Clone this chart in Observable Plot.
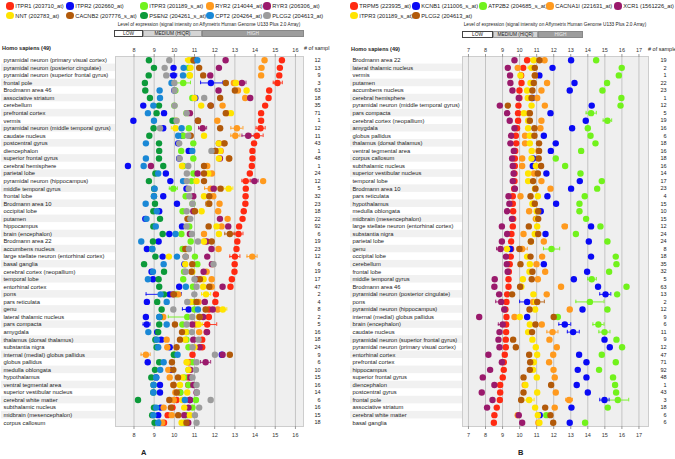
<!DOCTYPE html>
<html><head><meta charset="utf-8">
<script src="https://cdn.jsdelivr.net/npm/d3@7"></script>
<script src="https://cdn.jsdelivr.net/npm/@observablehq/plot@0.6"></script>
<style>
body{margin:0;width:675px;height:459px;position:relative;overflow:hidden;background:#fff;font-family:"Liberation Sans",Arial,sans-serif;color:#222}
.abs{position:absolute;white-space:nowrap;z-index:2}
.wrap{position:absolute;z-index:1}
</style></head><body>
<script>
// ---------------- Panel A data ----------------
const aRows = ["pyramidal neuron (primary visual cortex)","pyramidal neuron (posterior cingulate)","pyramidal neuron (superior frontal gyrus)","frontal pole","Brodmann area 46","associative striatum","cerebellum","prefrontal cortex","vermis","pyramidal neuron (middle temporal gyrus)","caudate nucleus","postcentral gyrus","diencephalon","superior frontal gyrus","cerebral hemisphere","parietal lobe","pyramidal neuron (hippocampus)","middle temporal gyrus","frontal lobe","Brodmann area 10","occipital lobe","putamen","hippocampus","brain (encephalon)","Brodmann area 22","accumbens nucleus","large stellate neuron (entorhinal cortex)","basal ganglia","cerebral cortex (neopallium)","temporal lobe","entorhinal cortex","pons","pars reticulata","genu","lateral thalamic nucleus","pars compacta","amygdala","thalamus (dorsal thalamus)","substantia nigra","internal (medial) globus pallidus","globus pallidus","medulla oblongata","hypothalamus","ventral tegmental area","superior vestibular nucleus","cerebral white matter","subthalamic nucleus","midbrain (mesencephalon)","corpus callosum"];
const aSamples = [12,13,9,3,63,18,35,71,1,12,11,43,1,48,1,24,12,5,32,23,18,22,92,6,19,23,12,6,19,17,47,2,4,8,2,5,16,18,24,9,6,10,15,16,14,6,16,15,18];
const aNames = ["ITPR1 (203710_at)","ITPR2 (202660_at)","ITPR3 (201189_s_at)","RYR2 (214044_at)","RYR3 (206306_at)","NNT (202783_at)","CACNB2 (207776_s_at)","PSEN2 (204261_s_at)","CPT2 (204264_at)","PLCG2 (204613_at)"];
const aColors = ["#ff2a12","#0a0af5","#72f21c","#ff9a1e","#9a1a6c","#ffe400","#b25a0a","#0c9a3a","#1a88d6","#9c9c9c"];
const aITPR1 = [15.33,15.23,15.2,15.11,14.7,14.67,14.5,14.3,14.3,14.27,14.09,13.95,13.87,13.87,13.84,13.74,13.54,13.54,13.53,13.52,13.44,13.38,13.21,13.18,13.12,13.08,13.0,12.99,12.98,12.85,12.78,12.06,12.03,11.72,11.71,11.63,11.6,11.38,11.38,10.9,10.74,10.74,10.69,10.69,10.28,10.11,9.91,9.67,9.49];
const aITPR2 = [10.99,9.96,9.96,11.81,10.0,11.04,8.46,9.49,7.97,9.45,10.4,10.19,10.71,10.24,7.7,9.58,9.8,10.6,9.45,10.13,9.25,8.56,10.38,9.75,9.22,8.64,9.42,10.5,8.87,8.94,10.24,9.77,8.64,10.71,8.59,8.63,9.15,9.35,9.77,12.35,8.68,9.83,9.1,9.29,9.29,10.77,9.32,9.2,9.25];
const aITPR3 = [10.9,10.7,10.75,10.44,10.05,10.89,10.0,10.6,10.0,10.72,10.44,10.94,10.34,10.94,10.44,10.95,10.85,9.95,10.56,10.9,10.41,10.7,10.74,10.35,10.81,10.41,11.02,11.14,10.48,10.44,10.92,10.1,10.99,11.0,10.64,10.4,10.6,10.6,10.7,9.98,10.9,10.7,10.5,10.7,10.3,11.07,10.9,10.6,10.5];
const aRYR2 = [14.47,14.32,14.3,12.95,13.15,13.51,12.39,12.6,12.13,13.1,13.02,12.45,12.3,12.7,11.63,11.86,14.4,11.8,11.93,12.24,12.17,12.64,12.34,11.47,11.5,12.19,13.86,11.9,11.6,11.85,11.85,10.2,11.2,12.15,9.45,11.05,11.23,9.62,9.65,8.59,10.66,9.7,9.77,9.95,10.05,9.97,9.47,9.87,9.4];
const aRYR3 = [12.54,12.21,11.78,13.35,12.19,13.76,11.8,10.77,11.17,11.4,13.66,12.21,12.04,12.26,8.84,11.15,13.97,11.95,10.94,11.68,10.94,12.26,12.67,10.77,11.6,11.84,11.63,11.86,11.45,11.1,12.39,9.93,11.51,11.9,11.43,10.89,11.62,10.94,11.25,12.39,11.55,10.8,10.8,10.94,11.1,10.77,10.7,10.49,10.69];
const aNNT = [10.72,10.8,10.77,13.05,13.58,11.0,11.33,12.8,10.1,10.06,11.47,12.2,12.26,12.21,10.38,11.68,11.1,12.69,11.47,11.7,11.35,10.7,12.09,12.21,11.47,10.6,9.73,10.54,10.89,11.45,11.43,11.57,10.82,12.4,11.23,11.2,10.57,10.54,11.0,10.0,10.61,10.7,10.41,10.28,10.64,10.4,10.49,10.77,10.36];
const aCACNB2 = [10.95,11.23,11.43,12.55,13.0,12.27,11.8,12.55,11.17,12.27,10.81,12.49,12.04,12.72,11.47,11.47,11.47,12.29,11.73,11.73,11.02,10.65,11.7,12.75,11.85,10.54,10.56,10.89,10.85,11.27,11.73,9.98,11.1,11.55,11.25,10.03,10.38,10.28,10.11,12.75,9.88,9.95,10.18,9.96,10.12,9.75,9.83,10.19,10.6];
const aPSEN2 = [8.74,8.99,8.73,8.54,8.56,8.79,9.24,9.12,9.91,8.97,8.76,9.24,9.25,9.24,9.45,9.06,8.74,9.0,8.99,9.04,8.96,9.29,8.96,9.42,8.94,8.9,9.06,8.5,9.49,9.22,9.25,9.49,9.15,9.37,9.27,9.25,9.2,9.06,9.12,9.98,9.25,9.04,8.86,8.97,8.96,8.2,8.99,8.9,9.02];
const aCPT2 = [11.14,10.46,10.43,9.86,9.27,9.29,8.96,8.69,8.99,10.36,10.19,8.59,10.89,8.59,8.48,9.2,10.43,9.02,8.99,8.58,9.13,8.62,9.08,10.06,8.36,8.91,10.13,9.47,8.94,8.69,10.57,9.32,9.62,11.17,9.25,9.62,8.71,9.13,9.2,10.16,9.47,9.3,9.1,8.97,8.96,10.52,9.1,8.96,9.2];
const aPLCG2 = [9.75,9.52,9.6,10.0,10.01,11.48,10.01,10.61,10.11,9.29,10.69,10.24,11.84,10.26,10.69,10.62,10.62,10.71,10.74,10.9,10.61,10.79,10.6,10.87,11.17,10.72,10.56,11.94,10.56,11.0,11.1,10.99,10.64,9.95,10.89,10.61,10.87,11.2,10.9,12.01,11.1,11.07,10.9,11.1,11.12,11.8,11.23,11.02,11.1];
// error bars: [row index, series index, low, high]
const aErrors = [[3,0,14.9,15.35],[3,2,10.1,10.8],[3,1,11.3,12.4],[3,4,13.15,13.55],[3,5,12.85,13.25],[2,1,9.8,10.12],[9,5,9.85,10.27],[9,4,11.2,11.6],[9,3,12.8,13.4],[9,0,14.05,14.5],[10,3,12.8,13.25],[10,4,13.35,13.95],[10,0,13.8,14.4],[15,5,11.45,11.9],[17,2,9.75,10.15],[17,3,11.5,12.1],[17,5,12.45,12.9],[23,1,9.45,10.05],[23,0,12.95,13.4],[23,6,12.5,13.0],[26,3,13.6,14.1],[26,0,12.75,13.25],[31,1,8.6,10.35],[31,5,11.35,11.8],[33,1,10.4,11.0],[33,5,12.25,12.6],[34,2,9.7,10.7],[35,0,11.3,12.1],[35,1,8.45,8.8],[35,5,11.0,11.4],[39,3,8.35,8.8],[40,0,10.5,11.0],[40,4,11.3,11.8],[0,5,10.55,10.9],[16,0,13.35,13.75],[16,4,13.8,14.15]];
const aTicks = [8,9,10,11,12,13,14,15,16];

// ---------------- Panel B data ----------------
const bRows = ["Brodmann area 22","lateral thalamic nucleus","vermis","putamen","accumbens nucleus","cerebral hemisphere","pyramidal neuron (middle temporal gyrus)","pars compacta","cerebral cortex (neopallium)","amygdala","globus pallidus","thalamus (dorsal thalamus)","ventral tegmental area","corpus callosum","subthalamic nucleus","superior vestibular nucleus","temporal lobe","Brodmann area 10","pars reticulata","hypothalamus","medulla oblongata","midbrain (mesencephalon)","large stellate neuron (entorhinal cortex)","substantia nigra","parietal lobe","genu","occipital lobe","cerebellum","frontal lobe","middle temporal gyrus","Brodmann area 46","pyramidal neuron (posterior cingulate)","pons","pyramidal neuron (hippocampus)","internal (medial) globus pallidus","brain (encephalon)","caudate nucleus","pyramidal neuron (superior frontal gyrus)","pyramidal neuron (primary visual cortex)","entorhinal cortex","prefrontal cortex","hippocampus","superior frontal gyrus","diencephalon","postcentral gyrus","frontal pole","associative striatum","cerebral white matter","basal ganglia"];
const bSamples = [19,2,1,22,23,1,12,5,19,16,6,18,16,18,16,14,17,23,4,15,10,15,12,24,24,8,18,35,32,5,63,13,2,12,9,6,11,9,12,47,71,92,48,1,43,3,18,6,6];
const bNames = ["TRPM5 (223935_at)","KCNB1 (211006_s_at)","ATP2B2 (204685_s_at)","CACNA1I (221631_at)","XCR1 (1561226_at)","ITPR3 (201189_s_at)","PLCG2 (204613_at)"];
const bColors = ["#ff2a12","#0a0af5","#72f21c","#ff9a1e","#9a1a6c","#ffe400","#b25a0a"];
const bTRPM5 = [10.44,10.21,10.09,10.11,9.99,9.99,9.93,9.91,9.91,9.85,9.78,9.8,9.74,9.72,9.72,9.7,9.7,9.68,9.6,9.6,9.62,9.62,9.6,9.52,9.5,9.5,9.48,9.42,9.37,9.35,9.35,9.27,9.23,9.17,9.23,9.21,9.21,9.19,9.19,9.13,9.07,9.07,9.01,8.86,8.86,8.84,8.66,8.52,8.49];
const bKCNB1 = [13.02,11.93,11.16,13.22,12.94,10.75,14.23,11.81,13.88,13.08,11.42,12.12,11.83,10.79,10.77,11.57,13.53,13.02,11.63,12.14,11.24,11.0,14.19,11.52,14.06,9.45,14.19,11.42,13.96,13.18,14.6,15.04,10.44,13.69,10.44,12.65,13.14,14.98,15.29,13.49,13.92,13.41,13.92,13.35,14.0,14.98,13.04,11.18,12.94];
const bATP2B2 = [14.49,15.99,15.82,15.13,14.86,15.97,15.92,14.19,15.15,14.0,14.16,14.45,13.61,12.12,12.67,13.57,14.82,14.55,13.82,13.51,13.51,13.9,14.74,13.3,15.15,11.87,15.64,15.68,15.25,14.23,16.27,15.72,14.12,15.15,12.24,14.62,14.98,15.68,16.01,14.82,15.64,14.66,15.48,15.6,15.66,15.76,15.17,11.57,13.84];
const bCACNA1I = [11.46,9.89,10.89,11.61,11.28,11.03,11.48,10.55,11.28,11.22,10.32,10.32,11.1,10.15,10.15,10.85,11.28,11.81,10.05,10.8,10.56,10.95,12.65,10.23,11.42,10.15,11.32,10.99,11.5,11.07,12.43,11.59,10.8,12.94,9.7,11.3,11.93,11.75,12.18,11.97,11.73,11.99,12.06,10.3,12.12,12.9,12.06,9.89,11.1];
const bXCR1 = [9.7,9.31,9.44,9.46,9.58,9.95,8.84,9.27,9.42,9.7,9.5,9.46,9.66,9.56,9.6,9.65,9.6,9.72,9.35,9.4,9.27,9.55,8.96,9.27,8.96,8.88,9.2,9.25,9.3,8.54,8.52,8.8,8.92,9.1,7.63,9.01,8.82,8.76,8.82,8.17,8.96,8.27,7.84,8.52,7.78,8.41,8.09,9.95,10.15];
const bITPR3 = [10.83,10.7,10.05,10.64,10.44,10.48,10.7,10.25,10.5,10.5,10.6,10.6,10.71,10.7,10.95,10.5,10.5,10.9,11.07,10.75,11.0,11.03,11.03,10.89,10.66,9.27,10.44,10.6,10.58,10.19,10.1,10.81,10.95,10.91,10.01,10.6,10.5,10.75,10.95,11.03,10.83,10.79,11.01,10.34,11.03,10.56,10.91,11.07,11.16];
const bPLCG2 = [11.16,10.89,10.9,10.83,10.75,10.7,9.31,10.6,10.6,10.87,10.87,11.14,11.14,11.12,11.26,11.07,10.79,10.93,10.64,10.89,11.09,11.09,10.54,11.09,10.66,9.99,10.64,10.05,10.75,10.71,10.03,9.56,11.03,10.58,12.0,10.93,10.73,9.62,9.78,10.56,10.62,10.6,10.23,11.85,10.23,10.09,11.5,11.81,11.97];
const bErrors = [[0,5,10.65,11.0],[1,5,10.5,10.9],[7,2,13.9,14.5],[7,5,10.0,10.5],[8,2,14.9,15.4],[25,4,8.65,9.1],[25,3,9.85,10.45],[25,2,11.4,12.35],[29,2,14.0,14.5],[31,1,14.7,15.35],[32,4,8.6,9.25],[32,1,10.0,10.9],[32,6,10.6,11.45],[32,2,13.3,14.95],[35,4,8.75,9.25],[35,1,12.3,13.0],[35,2,14.3,14.95],[36,3,11.6,12.25],[36,1,12.8,13.5],[36,2,14.65,15.3],[45,5,10.25,10.85],[45,3,12.7,13.1],[45,1,14.7,15.25],[45,2,15.1,16.4],[22,3,12.5,12.8]];
const bTicks = [7,8,9,10,11,12,13,14,15,16,17];

// ---------------- helpers ----------------
function addDiv(html, css) {
  const d = document.createElement("div");
  d.className = "abs"; d.innerHTML = html;
  Object.assign(d.style, css);
  document.body.appendChild(d);
  return d;
}
function legend(names, colors, xs, ys) {
  names.forEach((n, i) => {
    const cx = xs[i % 5], cy = ys[Math.floor(i / 5)];
    addDiv("", {left: (cx - 3.6) + "px", top: (cy - 3.6) + "px", width: "7.2px", height: "7.2px", borderRadius: "50%", background: colors[i]});
    addDiv(n, {left: (cx + 5.3) + "px", top: (cy - 5) + "px", fontSize: "5.7px", lineHeight: "10px", color: "#222"});
  });
}
function levelBar(cx, ty, x0, x1, x2, x3, y0, y1) {
  addDiv("Level of expression (signal intensity on Affymetrix Human Genome U133 Plus 2.0 Array)",
    {left: (cx - 150) + "px", width: "300px", textAlign: "center", top: (ty - 4) + "px", fontSize: "4.7px", lineHeight: "8px", color: "#222"});
  const h = (y1 - y0) + "px";
  const base = {top: y0 + "px", height: h, lineHeight: (y1 - y0 - 2) + "px", fontSize: "4.8px", textAlign: "center", boxSizing: "border-box"};
  addDiv("LOW", Object.assign({}, base, {left: x0 + "px", width: (x1 - x0) + "px", background: "#fff", border: "1px solid #444", color: "#222"}));
  addDiv("MEDIUM (HIQR)", Object.assign({}, base, {left: x1 + "px", width: (x2 - x1) + "px", background: "#d4d4d4", border: "1px solid #999", color: "#222"}));
  addDiv("HIGH", Object.assign({}, base, {left: x2 + "px", width: (x3 - x2) + "px", background: "#9d9d9d", border: "1px solid #888", color: "#ececec"}));
}
function panel(opt) {
  const {rows, samples, series, colors, domain, ticks, width, marginLeft, marginRight, labelX, stripeX, samplesX, errors} = opt;
  const height = 406, marginTop = 16, marginBottom = 20;
  const dots = series.flatMap((vals, s) => vals.map((v, i) => ({row: rows[i], v, s})));
  const errs = errors.map(([i, s, lo, hi]) => ({row: rows[i], s, lo, hi}));
  const k = (width - marginLeft - marginRight) / (domain[1] - domain[0]);
  const xAt = px => domain[0] + (px - marginLeft) / k;
  const striped = rows.filter((d, i) => i % 2 === 1);
  return Plot.plot({
    width, height, marginTop, marginBottom, marginLeft, marginRight,
    style: {fontFamily: "Liberation Sans, Arial, sans-serif", background: "transparent", color: "#333", overflow: "visible"},
    x: {domain, axis: null},
    y: {domain: rows, type: "band", padding: 0, round: false, axis: null},
    color: {type: "ordinal", domain: d3.range(colors.length), range: colors},
    marks: [
      Plot.barX(striped, {y: d => d, x1: xAt(stripeX), x2: domain[0], fill: "#f1f1f1"}),
      Plot.frame({fill: "#efefef", stroke: "#cdcdcd"}),
      Plot.gridX(ticks, {stroke: "#c4c4c4", strokeOpacity: 1, strokeWidth: 1}),
      Plot.axisX(ticks, {anchor: "top", tickSize: 3, tickPadding: 1.5, fontSize: 5.5, stroke: "#999"}),
      Plot.axisX(ticks, {anchor: "bottom", tickSize: 3, tickPadding: 4, fontSize: 5.5, stroke: "#999"}),
      Plot.ruleY(errs, {y: "row", x1: "lo", x2: "hi", stroke: "s", strokeWidth: 0.9}),
      Plot.tickX(errs, {x: "lo", y: "row", stroke: "s", insetTop: 2, insetBottom: 2, strokeWidth: 0.9}),
      Plot.tickX(errs, {x: "hi", y: "row", stroke: "s", insetTop: 2, insetBottom: 2, strokeWidth: 0.9}),
      Plot.dot(dots, {x: "v", y: "row", fill: "s", r: 3.2}),
      Plot.text(rows, {y: d => d, text: d => d, frameAnchor: "left", textAnchor: "start", dx: labelX - marginLeft, fontSize: 5.8, fill: "#222"}),
      Plot.text(rows, {y: d => d, text: (d, i) => String(samples[i]), frameAnchor: "right", textAnchor: "end", dx: samplesX - (width - marginRight), fontSize: 5.5, fill: "#222"})
    ]
  });
}
function place(svg, left, top) {
  const w = document.createElement("div");
  w.className = "wrap"; w.style.left = left + "px"; w.style.top = top + "px";
  w.appendChild(svg); document.body.appendChild(w);
}

// ---------------- Panel A ----------------
place(panel({rows: aRows, samples: aSamples, series: [aITPR1, aITPR2, aITPR3, aRYR2, aRYR3, aNNT, aCACNB2, aPSEN2, aCPT2, aPLCG2],
  colors: aColors, domain: [7.084, 16.40], ticks: aTicks, width: 340, marginLeft: 115, marginRight: 37,
  labelX: 3, stripeX: 1, samplesX: 320, errors: aErrors}), 0, 40);
// ---------------- Panel B ----------------
place(panel({rows: bRows, samples: bSamples, series: [bTRPM5, bKCNB1, bATP2B2, bCACNA1I, bXCR1, bITPR3, bPLCG2],
  colors: bColors, domain: [6.65, 17.56], ticks: bTicks, width: 335, marginLeft: 122, marginRight: 27,
  labelX: 12, stripeX: 10, samplesX: 326, errors: bErrors}), 340, 40);

legend(aNames, aColors, [10, 70, 144, 210, 267], [6, 15.7]);
legend(bNames, bColors, [354, 416, 483, 550, 618], [6, 15.7]);
levelBar(209, 25, 114, 143, 202, 304, 30, 37);
levelBar(555, 25, 462, 493, 538, 583, 31, 38);
addDiv("<b>Homo sapiens (49)</b>", {left: "2px", top: "43px", fontSize: "5.5px", lineHeight: "10px"});
addDiv("<b>Homo sapiens (49)</b>", {left: "351px", top: "44px", fontSize: "5.5px", lineHeight: "10px"});
addDiv("# of sampl", {left: "304px", top: "43px", fontSize: "5.5px", lineHeight: "10px"});
addDiv("# of sample", {left: "648px", top: "44px", fontSize: "5.5px", lineHeight: "10px"});
addDiv("<b>A</b>", {left: "141px", top: "448px", fontSize: "7.5px", lineHeight: "10px"});
addDiv("<b>B</b>", {left: "518px", top: "448px", fontSize: "7.5px", lineHeight: "10px"});
</script>
</body></html>
